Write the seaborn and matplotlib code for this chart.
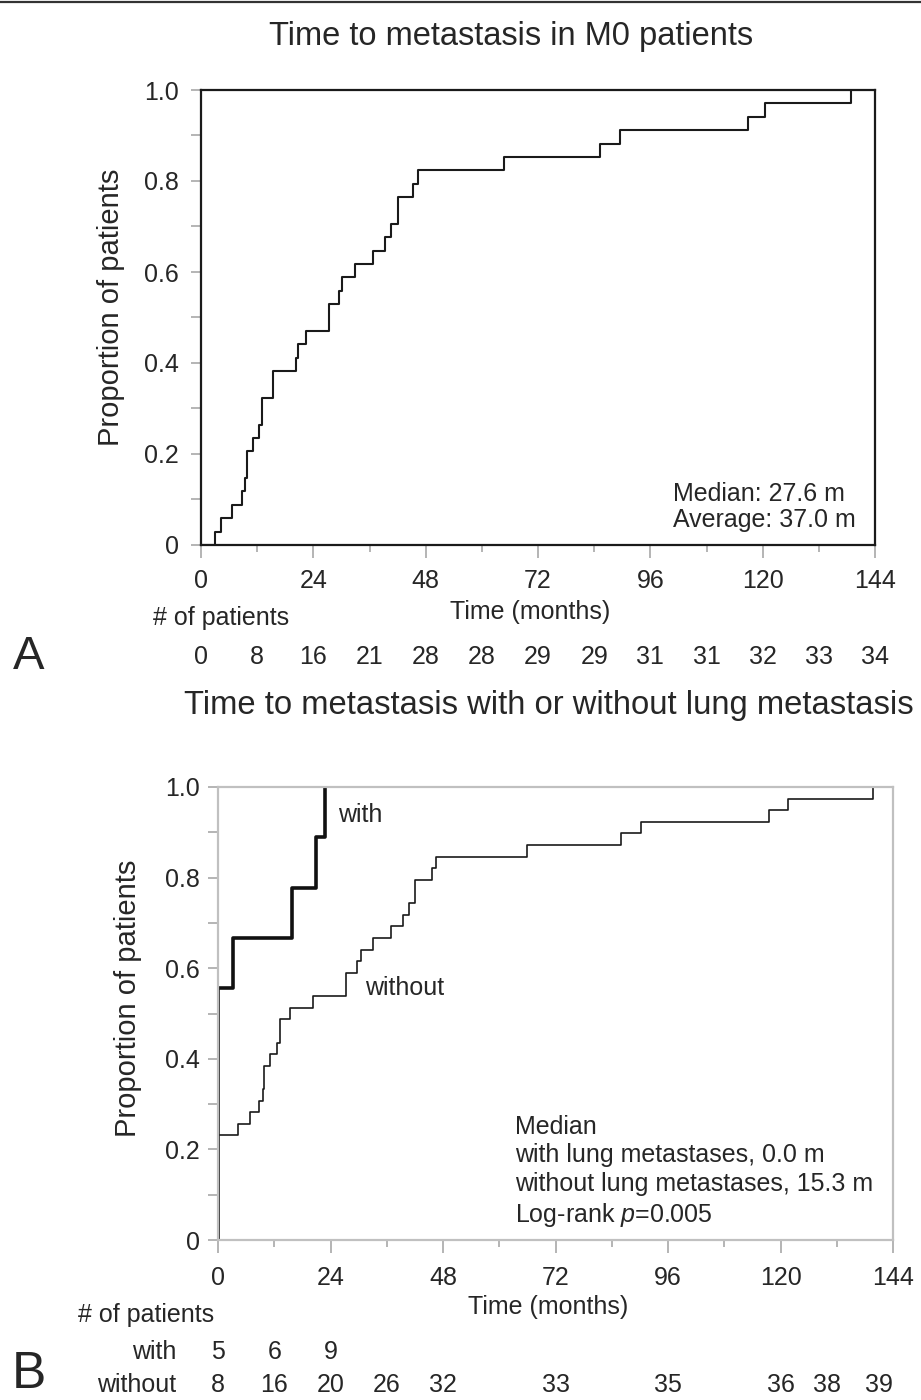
import numpy as np
import pandas as pd
import seaborn as sns
import matplotlib.pyplot as plt
from matplotlib.lines import Line2D
from matplotlib.transforms import blended_transform_factory

sns.set_theme(style="ticks")
plt.rcParams['font.family'] = ['Liberation Sans', 'DejaVu Sans']
plt.rcParams['mathtext.fontset'] = 'custom'
plt.rcParams['mathtext.it'] = 'Liberation Sans:italic'
plt.rcParams['mathtext.rm'] = 'Liberation Sans'

#### Data ####

# panel A : all M0 patients (n = 34), cumulative number with metastasis
m0_months = [0, 3.0, 4.2, 6.7, 8.7, 9.5, 9.8, 11.1, 12.4, 13.1, 15.3, 20.3, 20.7, 22.5,
             27.4, 29.5, 30.2, 33.0, 36.7, 39.3, 40.5, 42.1, 45.3, 46.3, 64.8, 85.3,
             89.5, 116.9, 120.6, 138.9]
m0_events = [0, 1, 2, 3, 4, 5, 7, 8, 9, 11, 13, 14, 15, 16,
             18, 19, 20, 21, 22, 23, 24, 26, 27, 28, 29, 30,
             31, 32, 33, 34]
m0_total = 34

# panel B : with lung metastasis (n = 9) / without (n = 39)
with_months = [0, 0, 3.3, 15.7, 21.0, 22.9]
with_events = [0, 5, 6, 7, 8, 9]
with_total = 9

without_months = [0, 0, 4.2, 6.8, 8.8, 9.5, 9.9, 11.0, 12.5, 13.2, 15.4, 20.3, 27.4,
                  29.6, 30.4, 33.0, 36.8, 39.4, 40.7, 42.1, 45.6, 46.4, 66.0, 85.9,
                  90.2, 117.6, 121.5, 139.8]
without_events = [0, 9, 10, 11, 12, 13, 15, 16, 17, 19, 20, 21, 23,
                  24, 25, 26, 27, 28, 29, 31, 32, 33, 34, 35,
                  36, 37, 38, 39]
without_total = 39

# number of patients rows
risk_a_months = [0, 12, 24, 36, 48, 60, 72, 84, 96, 108, 120, 132, 144]
risk_a = [0, 8, 16, 21, 28, 28, 29, 29, 31, 31, 32, 33, 34]
risk_with_months = [0, 12, 24]
risk_with = [5, 6, 9]
risk_without_months = [0, 12, 24, 36, 48, 72, 96, 120, 130, 141]
risk_without = [8, 16, 20, 26, 32, 33, 35, 36, 38, 39]

x_ticks = [0, 24, 48, 72, 96, 120, 144]
y_ticks = [0, 0.2, 0.4, 0.6, 0.8, 1.0]
y_ticklabels = ['0', '0.2', '0.4', '0.6', '0.8', '1.0']

#### Helpers ####

def style_axis(ax, spine_color, xpad, ypad):
    ax.set_xlim(0, 144)
    ax.set_ylim(0, 1.0)
    ax.set_xticks(x_ticks)
    ax.set_xticks(range(12, 144, 24), minor=True)
    ax.set_yticks(y_ticks, y_ticklabels)
    ax.set_yticks(np.arange(0.1, 1.0, 0.2), minor=True)
    for s in ax.spines.values():
        s.set_visible(True)
        s.set_color(spine_color)
        s.set_linewidth(1.6)
    ax.tick_params(axis='x', which='major', length=9, width=1.2, color='#a8a8a8',
                   labelsize=18, pad=xpad)
    ax.tick_params(axis='x', which='minor', length=5, width=1.2, color='#a8a8a8')
    ax.tick_params(axis='y', which='both', length=7, width=1.2, color='#a8a8a8',
                   labelsize=18, pad=ypad)
    ax.set_facecolor('white')


def risk_row(ax, months, counts, y):
    trans = blended_transform_factory(ax.transData, ax.transAxes)
    for t, n in zip(months, counts):
        ax.text(t, y, str(n), transform=trans, ha='center', va='center',
                fontsize=18, clip_on=False)


fig = plt.figure(figsize=(9.21, 14), dpi=100)
fig.patch.set_facecolor('white')
fig.add_artist(Line2D([0, 1], [1 - 2 / 1400, 1 - 2 / 1400], color='#333333', lw=1.6))

#### Panel A ####
ax1 = fig.add_axes([201 / 921, 1 - 545 / 1400, 674 / 921, 455 / 1400])
df_a = pd.DataFrame({'months': m0_months,
                     'proportion': np.array(m0_events) / m0_total})
sns.lineplot(data=df_a, x='months', y='proportion', estimator=None,
             drawstyle='steps-post', color='#1a1a1a', lw=1.5, ax=ax1)
style_axis(ax1, '#1a1a1a', xpad=8, ypad=9)
ax1.set_xlabel('Time (months)', fontsize=18)
ax1.xaxis.set_label_coords(0.489, -0.147)
ax1.xaxis.label.set_va('center')
ax1.set_ylabel('Proportion of patients', fontsize=21)
ax1.yaxis.set_label_coords(-0.1335, 0.523)
ax1.yaxis.label.set_va('center')
ax1.set_title('Time to metastasis in M0 patients', fontsize=23.5, x=0.46, y=1.10, va='center')
ax1.text(0.70, 0.0835, 'Median: 27.6 m\nAverage: 37.0 m', transform=ax1.transAxes,
         ha='left', va='center', fontsize=18, linespacing=1.12)
risk_row(ax1, risk_a_months, risk_a, -0.246)
fig.text(153 / 921, 1 - 618 / 1400, '# of patients', ha='left', va='center', fontsize=18)
fig.text(13 / 921, 1 - 657 / 1400, 'A', ha='left', va='center', fontsize=34)

#### Panel B ####
ax2 = fig.add_axes([218 / 921, 1 - 1240 / 1400, 675 / 921, 453 / 1400])
df_with = pd.DataFrame({'months': with_months,
                        'proportion': np.array(with_events) / with_total})
df_without = pd.DataFrame({'months': without_months,
                           'proportion': np.array(without_events) / without_total})
sns.lineplot(data=df_without, x='months', y='proportion', estimator=None,
             drawstyle='steps-post', color='#1a1a1a', lw=1.2, ax=ax2)
sns.lineplot(data=df_with, x='months', y='proportion', estimator=None,
             drawstyle='steps-post', color='#111111', lw=2.6, ax=ax2)
style_axis(ax2, '#c0c0c0', xpad=10, ypad=6)
ax2.set_xlabel('Time (months)', fontsize=18)
ax2.xaxis.set_label_coords(0.489, -0.148)
ax2.xaxis.label.set_va('center')
ax2.set_ylabel('Proportion of patients', fontsize=21)
ax2.yaxis.set_label_coords(-0.133, 0.534)
ax2.yaxis.label.set_va('center')
ax2.set_title('Time to metastasis with or without lung metastasis', fontsize=23.6,
              x=(549 - 218) / 675, y=(1240 - 714) / 453, va='center')
ax2.text(25.6, 0.938, 'with', ha='left', va='center', fontsize=18)
ax2.text(31.3, 0.556, 'without', ha='left', va='center', fontsize=18)
ax2.text(0.44, 0.151,
         'Median\nwith lung metastases, 0.0 m\nwithout lung metastases, 15.3 m\nLog-rank $p$=0.005',
         transform=ax2.transAxes, ha='left', va='center', fontsize=18, linespacing=1.24)
risk_row(ax2, risk_with_months, risk_with, -0.247)
risk_row(ax2, risk_without_months, risk_without, -0.320)
fig.text(78 / 921, 1 - 1315 / 1400, '# of patients', ha='left', va='center', fontsize=18)
fig.text(176 / 921, 1 - 1352 / 1400, 'with', ha='right', va='center', fontsize=18)
fig.text(176 / 921, 1 - 1385 / 1400, 'without', ha='right', va='center', fontsize=18)
fig.text(12 / 921, 1 - 1375 / 1400, 'B', ha='left', va='center', fontsize=37)

fig.savefig('out.png', dpi=100, facecolor='white')
